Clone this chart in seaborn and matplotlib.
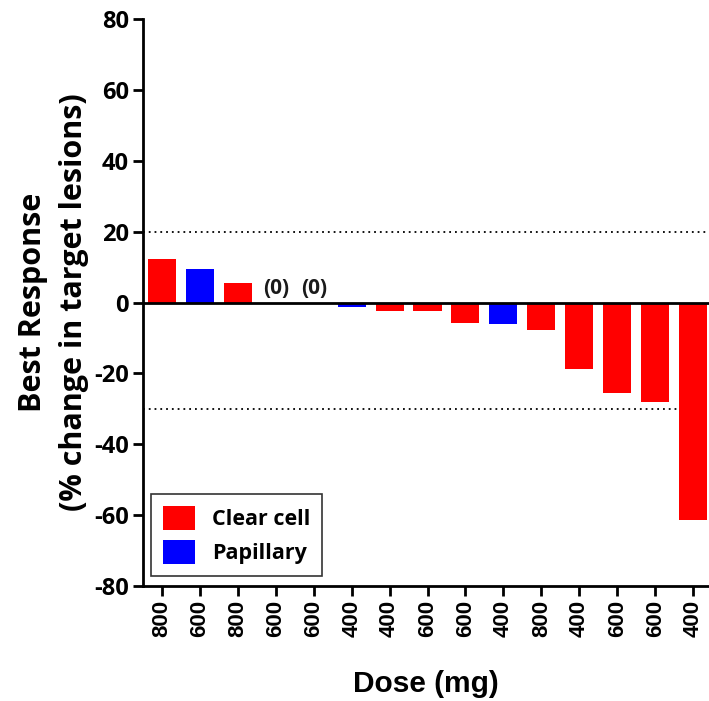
import matplotlib
matplotlib.use("Agg")
import matplotlib.pyplot as plt
import seaborn as sns
import pandas as pd
from matplotlib.patches import Patch

doses = ["800", "600", "800", "600", "600", "400", "400", "600", "600", "400", "800", "400", "600", "600", "400"]
responses = [12.2, 9.5, 5.4, 0, 0, -1.4, -2.5, -2.5, -5.8, -6.0, -7.9, -18.8, -25.5, -28.0, -61.3]
histology = ["Clear cell", "Papillary", "Clear cell", "Clear cell", "Clear cell", "Papillary", "Clear cell",
             "Clear cell", "Clear cell", "Papillary", "Clear cell", "Clear cell", "Clear cell", "Clear cell", "Clear cell"]
palette = {"Clear cell": "#ff0000", "Papillary": "#0000ff"}
y_ticks = [-80, -60, -40, -20, 0, 20, 40, 60, 80]
ref_lines = [20, -30]

df = pd.DataFrame({"pos": [str(i) for i in range(len(doses))], "resp": responses, "type": histology})

sns.set_style("white")
plt.rcParams['font.family'] = ['Open Sans', 'DejaVu Sans']
plt.rcParams['font.weight'] = 'bold'
plt.rcParams['text.color'] = 'black'
plt.rcParams['axes.labelcolor'] = 'black'
plt.rcParams['xtick.color'] = 'black'
plt.rcParams['ytick.color'] = 'black'

fig = plt.figure(figsize=(7.09, 7.01), dpi=100)
ax = fig.add_axes([143/709, 1 - 586/701, 1 - 143/709, (586 - 19)/701])

for r in ref_lines:
    ax.axhline(r, color="black", lw=1.3, ls=(0, (1, 2.2)), zorder=0)

sns.barplot(data=df, x="pos", y="resp", hue="type", palette=palette, dodge=False,
            order=df["pos"].tolist(), width=0.74, ax=ax, legend=False, zorder=2,
            edgecolor="none", saturation=1)

ax.axhline(0, color="black", lw=2, zorder=3)

for i, v in enumerate(responses):
    if v == 0:
        ax.text(i, 1.0, "(0)", ha="center", va="bottom", fontsize=15, fontweight="bold", color="#1a1a1a")

ax.set_ylim(-80, 80)
ax.set_xlim(-0.5, 14.42)
ax.set_yticks(y_ticks)
ax.set_yticklabels([str(t) for t in y_ticks], fontsize=17, fontweight="bold")
ax.set_xticks(range(len(doses)))
ax.set_xticklabels(doses, rotation=90, fontsize=16, fontweight="bold", family="Liberation Sans")
ax.tick_params(axis="both", direction="out", length=7, width=2, color="black", pad=3, left=True, bottom=True)

for s in ["top", "right"]:
    ax.spines[s].set_visible(False)
for s in ["left", "bottom"]:
    ax.spines[s].set_linewidth(2)
    ax.spines[s].set_color("black")

ax.set_ylabel("Best Response\n(% change in target lesions)", fontsize=22, fontweight="bold", labelpad=4, linespacing=1.45)
ax.set_xlabel("Dose (mg)", fontsize=21.5, fontweight="bold", labelpad=24, family="Liberation Sans")

handles = [Patch(facecolor=palette[k], edgecolor="none") for k in ["Clear cell", "Papillary"]]
leg = ax.legend(handles, ["Clear cell", "Papillary"], loc="lower left", bbox_to_anchor=(0.014, 0.018),
                borderaxespad=0, frameon=True, fancybox=False, edgecolor="black",
                prop={"weight": "bold", "size": 15.5},
                handlelength=1.5, handleheight=1.35, borderpad=0.55, labelspacing=0.45, handletextpad=0.8)
leg.get_frame().set_linewidth(1.2)

fig.savefig("out.png", dpi=100)
